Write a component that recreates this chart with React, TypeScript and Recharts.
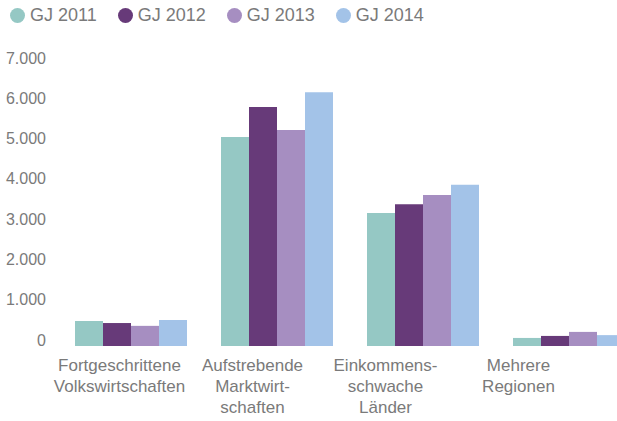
import React from 'react';
import {Bar, BarChart, Legend, XAxis, YAxis} from "recharts";

const categories = [
    "Fortgeschrittene\nVolkswirtschaften",
    "Aufstrebende\nMarktwirt-\nschaften",
    "Einkommens-\nschwache\nLänder",
    "Mehrere\nRegionen",
];
const gj2011 = [620, 5190, 3300, 200];
const gj2012 = [570, 5930, 3520, 250];
const gj2013 = [500, 5360, 3750, 350];
const gj2014 = [645, 6300, 4000, 270];
const seriesNames = ["GJ 2011", "GJ 2012", "GJ 2013", "GJ 2014"];
const seriesColors = ["#95C8C4", "#673A79", "#A68EC1", "#A3C3E8"];
const yTicks = [0, 1000, 2000, 3000, 4000, 5000, 6000, 7000];

const data = categories.map((name, i) => ({
    name,
    [seriesNames[0]]: gj2011[i],
    [seriesNames[1]]: gj2012[i],
    [seriesNames[2]]: gj2013[i],
    [seriesNames[3]]: gj2014[i],
}));

const FONT = '"Liberation Sans", Arial, sans-serif';
const GREY = "#7a7a7a";

const formatThousands = (v: number) => String(v).replace(/\B(?=(\d{3})+(?!\d))/g, ".");

function YTick({x, y, payload}: any) {
    return (
        <text x={x} y={y - 6} textAnchor="end" dominantBaseline="central"
              fill={GREY} fontSize={16} fontFamily={FONT}>
            {formatThousands(payload.value)}
        </text>
    );
}

function CategoryTick({x, y, payload}: any) {
    const lines = String(payload.value).split("\n");
    return (
        <text x={x} y={y} textAnchor="middle" fill={GREY} fontSize={17} fontFamily={FONT}>
            {lines.map((line, i) => (
                <tspan key={i} x={x} dy={i === 0 ? 17 : 21}>{line}</tspan>
            ))}
        </text>
    );
}

function LegendContent() {
    return (
        <div style={{display: "flex", alignItems: "center", height: 30, paddingLeft: 10, fontFamily: FONT, fontSize: 18, color: GREY}}>
            {seriesNames.map((name, i) => (
                <div key={name} style={{display: "flex", alignItems: "center", marginRight: 21}}>
                    <span style={{width: 15, height: 15, borderRadius: "50%", backgroundColor: seriesColors[i], marginRight: 5, display: "inline-block"}}/>
                    <span>{name}</span>
                </div>
            ))}
        </div>
    );
}

export default function App(): React.ReactElement {
    return (
        <div style={{position: "absolute", left: 0, top: 0, width: 617, height: 421, overflow: "hidden", background: "#fff"}}>
            <BarChart width={641} height={421} data={data} barGap={0} barCategoryGap={18}
                      margin={{top: 34, right: 0, left: 0, bottom: 0}}>
                <Legend verticalAlign="top" align="left" content={<LegendContent/>}
                        wrapperStyle={{top: 0, left: 0, height: 30}}/>
                <XAxis xAxisId="bars" dataKey="name" hide height={0}/>
                <XAxis xAxisId="labels" dataKey="name" axisLine={false} tickLine={false}
                       height={75} interval={0} tick={<CategoryTick/>} padding={{left: -4, right: 56}}/>
                <YAxis domain={[0, 7000]} ticks={yTicks} width={57} axisLine={false} tickLine={false}
                       tickMargin={5} interval={0} tick={<YTick/>}/>
                {seriesNames.map((name, i) => (
                    <Bar key={name} xAxisId="bars" dataKey={name} fill={seriesColors[i]} isAnimationActive={false}/>
                ))}
            </BarChart>
        </div>
    );
}
